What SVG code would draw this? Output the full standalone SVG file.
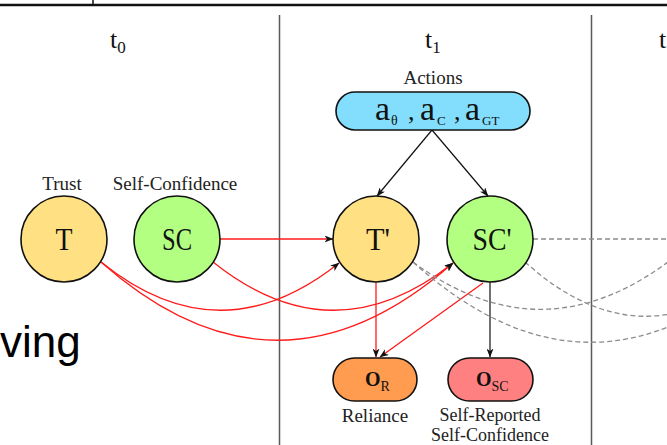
<svg xmlns="http://www.w3.org/2000/svg" width="667" height="445" viewBox="0 0 667 445">
<style>
.lbl{font-family:"Liberation Serif","DejaVu Serif",serif;font-size:19px;fill:#222;text-anchor:middle}
.lbl2{font-family:"Liberation Serif","DejaVu Serif",serif;font-size:18px;fill:#222;text-anchor:middle}
.nt{font-family:"Liberation Serif","DejaVu Serif",serif;font-size:32px;fill:#111;text-anchor:middle}
.tl{font-family:"Liberation Serif","DejaVu Serif",serif;font-size:26px;fill:#111}
.node{stroke:#111;stroke-width:1.6}
.red{fill:none;stroke:#ff1a1a;stroke-width:1.3}
.blk{fill:none;stroke:#111;stroke-width:1.2}
.dash{fill:none;stroke:#8c8c8c;stroke-width:1.3;stroke-dasharray:5 3}
.sep{stroke:#5a5a5a;stroke-width:1.5}
</style>
<defs>
<marker id="ah" markerWidth="9" markerHeight="7" refX="8.5" refY="3.5" orient="auto" markerUnits="userSpaceOnUse">
<path d="M0,0 L9,3.5 L0,7 L2.5,3.5 z" fill="#111"/>
</marker>
</defs>
<rect width="667" height="445" fill="#fff"/>
<g id="frame">
<line x1="0" y1="5" x2="667" y2="5" stroke="#111" stroke-width="2.5"/>
<line x1="93" y1="0" x2="93" y2="5" stroke="#111" stroke-width="1.5"/>
<line class="sep" x1="279.5" y1="15" x2="279.5" y2="445"/>
<line class="sep" x1="591.5" y1="15" x2="591.5" y2="445"/>
<text class="tl" x="110" y="48">t<tspan font-size="17" dy="5">0</tspan></text>
<text class="tl" x="425" y="48">t<tspan font-size="17" dy="5">1</tspan></text>
<text class="tl" x="659" y="48">t</text>
<text x="0" y="357" font-family="'Liberation Sans',Arial,sans-serif" font-size="44" fill="#000">ving</text>
</g>
<g id="connectors">
<line class="blk" x1="432" y1="130" x2="377" y2="196" marker-end="url(#ah)"/>
<line class="blk" x1="432" y1="130" x2="488" y2="196" marker-end="url(#ah)"/>
<line class="red" x1="220" y1="239" x2="333" y2="239" marker-end="url(#ah)"/>
<path class="red" d="M101,262 Q220,358 339,263" marker-end="url(#ah)"/>
<path class="red" d="M213,262 Q333,358 453,263" marker-end="url(#ah)"/>
<path class="red" d="M101,262 Q277,418 453,263" marker-end="url(#ah)"/>
<line class="red" x1="376" y1="282" x2="376" y2="357" marker-end="url(#ah)"/>
<line class="red" x1="483" y1="283" x2="380" y2="357" marker-end="url(#ah)"/>
<line class="blk" x1="490" y1="282" x2="490" y2="357" marker-end="url(#ah)"/>
<line class="dash" x1="533" y1="239" x2="667" y2="239"/>
<path class="dash" d="M413,262 Q545,360 677,255"/>
<path class="dash" d="M413,262 Q590,422 767,263"/>
<path class="dash" d="M525,262 Q645,370 765,263"/>
</g>
<g id="node-T">
<text class="lbl" x="62" y="190">Trust</text>
<circle class="node" cx="64" cy="239" r="43" fill="#ffe183"/>
<text class="nt" x="64" y="250" textLength="17" lengthAdjust="spacingAndGlyphs">T</text>
</g>
<g id="node-SC">
<text class="lbl" x="175" y="190">Self-Confidence</text>
<circle class="node" cx="177" cy="239" r="43" fill="#b3ff82"/>
<text class="nt" x="177" y="250" textLength="30" lengthAdjust="spacingAndGlyphs">SC</text>
</g>
<g id="node-actions">
<text class="lbl" x="433" y="84">Actions</text>
<rect class="node" x="336" y="92" width="194" height="38" rx="19" fill="#82defc"/>
<g font-family="'Liberation Serif','DejaVu Serif',serif" fill="#111">
<text x="375" y="120" font-size="34" textLength="15" lengthAdjust="spacingAndGlyphs">a</text>
<text x="391" y="125" font-size="14">θ</text>
<text x="408" y="120" font-size="26">,</text>
<text x="420" y="120" font-size="34" textLength="15" lengthAdjust="spacingAndGlyphs">a</text>
<text x="437" y="125" font-size="13">C</text>
<text x="454" y="120" font-size="26">,</text>
<text x="465" y="120" font-size="34" textLength="15" lengthAdjust="spacingAndGlyphs">a</text>
<text x="482" y="125" font-size="13">GT</text>
</g>
</g>
<g id="node-T1">
<circle class="node" cx="376" cy="239" r="43" fill="#ffe183"/>
<text class="nt" x="378" y="250" textLength="24" lengthAdjust="spacingAndGlyphs">T'</text>
</g>
<g id="node-SC1">
<circle class="node" cx="490" cy="239" r="43" fill="#b3ff82"/>
<text class="nt" x="492" y="250" textLength="39" lengthAdjust="spacingAndGlyphs">SC'</text>
</g>
<g id="node-OR">
<rect class="node" x="333" y="358" width="84" height="43" rx="21.5" fill="#ff9c50"/>
<text x="365" y="386" font-family="'Liberation Serif','DejaVu Serif',serif" font-size="20" font-weight="bold" fill="#111">O<tspan font-size="14" font-weight="normal" dy="5">R</tspan></text>
<text class="lbl" x="375" y="422">Reliance</text>
</g>
<g id="node-OSC">
<rect class="node" x="448" y="358" width="85" height="43" rx="21.5" fill="#ff8080"/>
<text x="476" y="386" font-family="'Liberation Serif','DejaVu Serif',serif" font-size="20" font-weight="bold" fill="#111">O<tspan font-size="14" font-weight="normal" dy="5">SC</tspan></text>
<text class="lbl2" x="490" y="421">Self-Reported</text>
<text class="lbl2" x="490" y="441">Self-Confidence</text>
</g>
</svg>
